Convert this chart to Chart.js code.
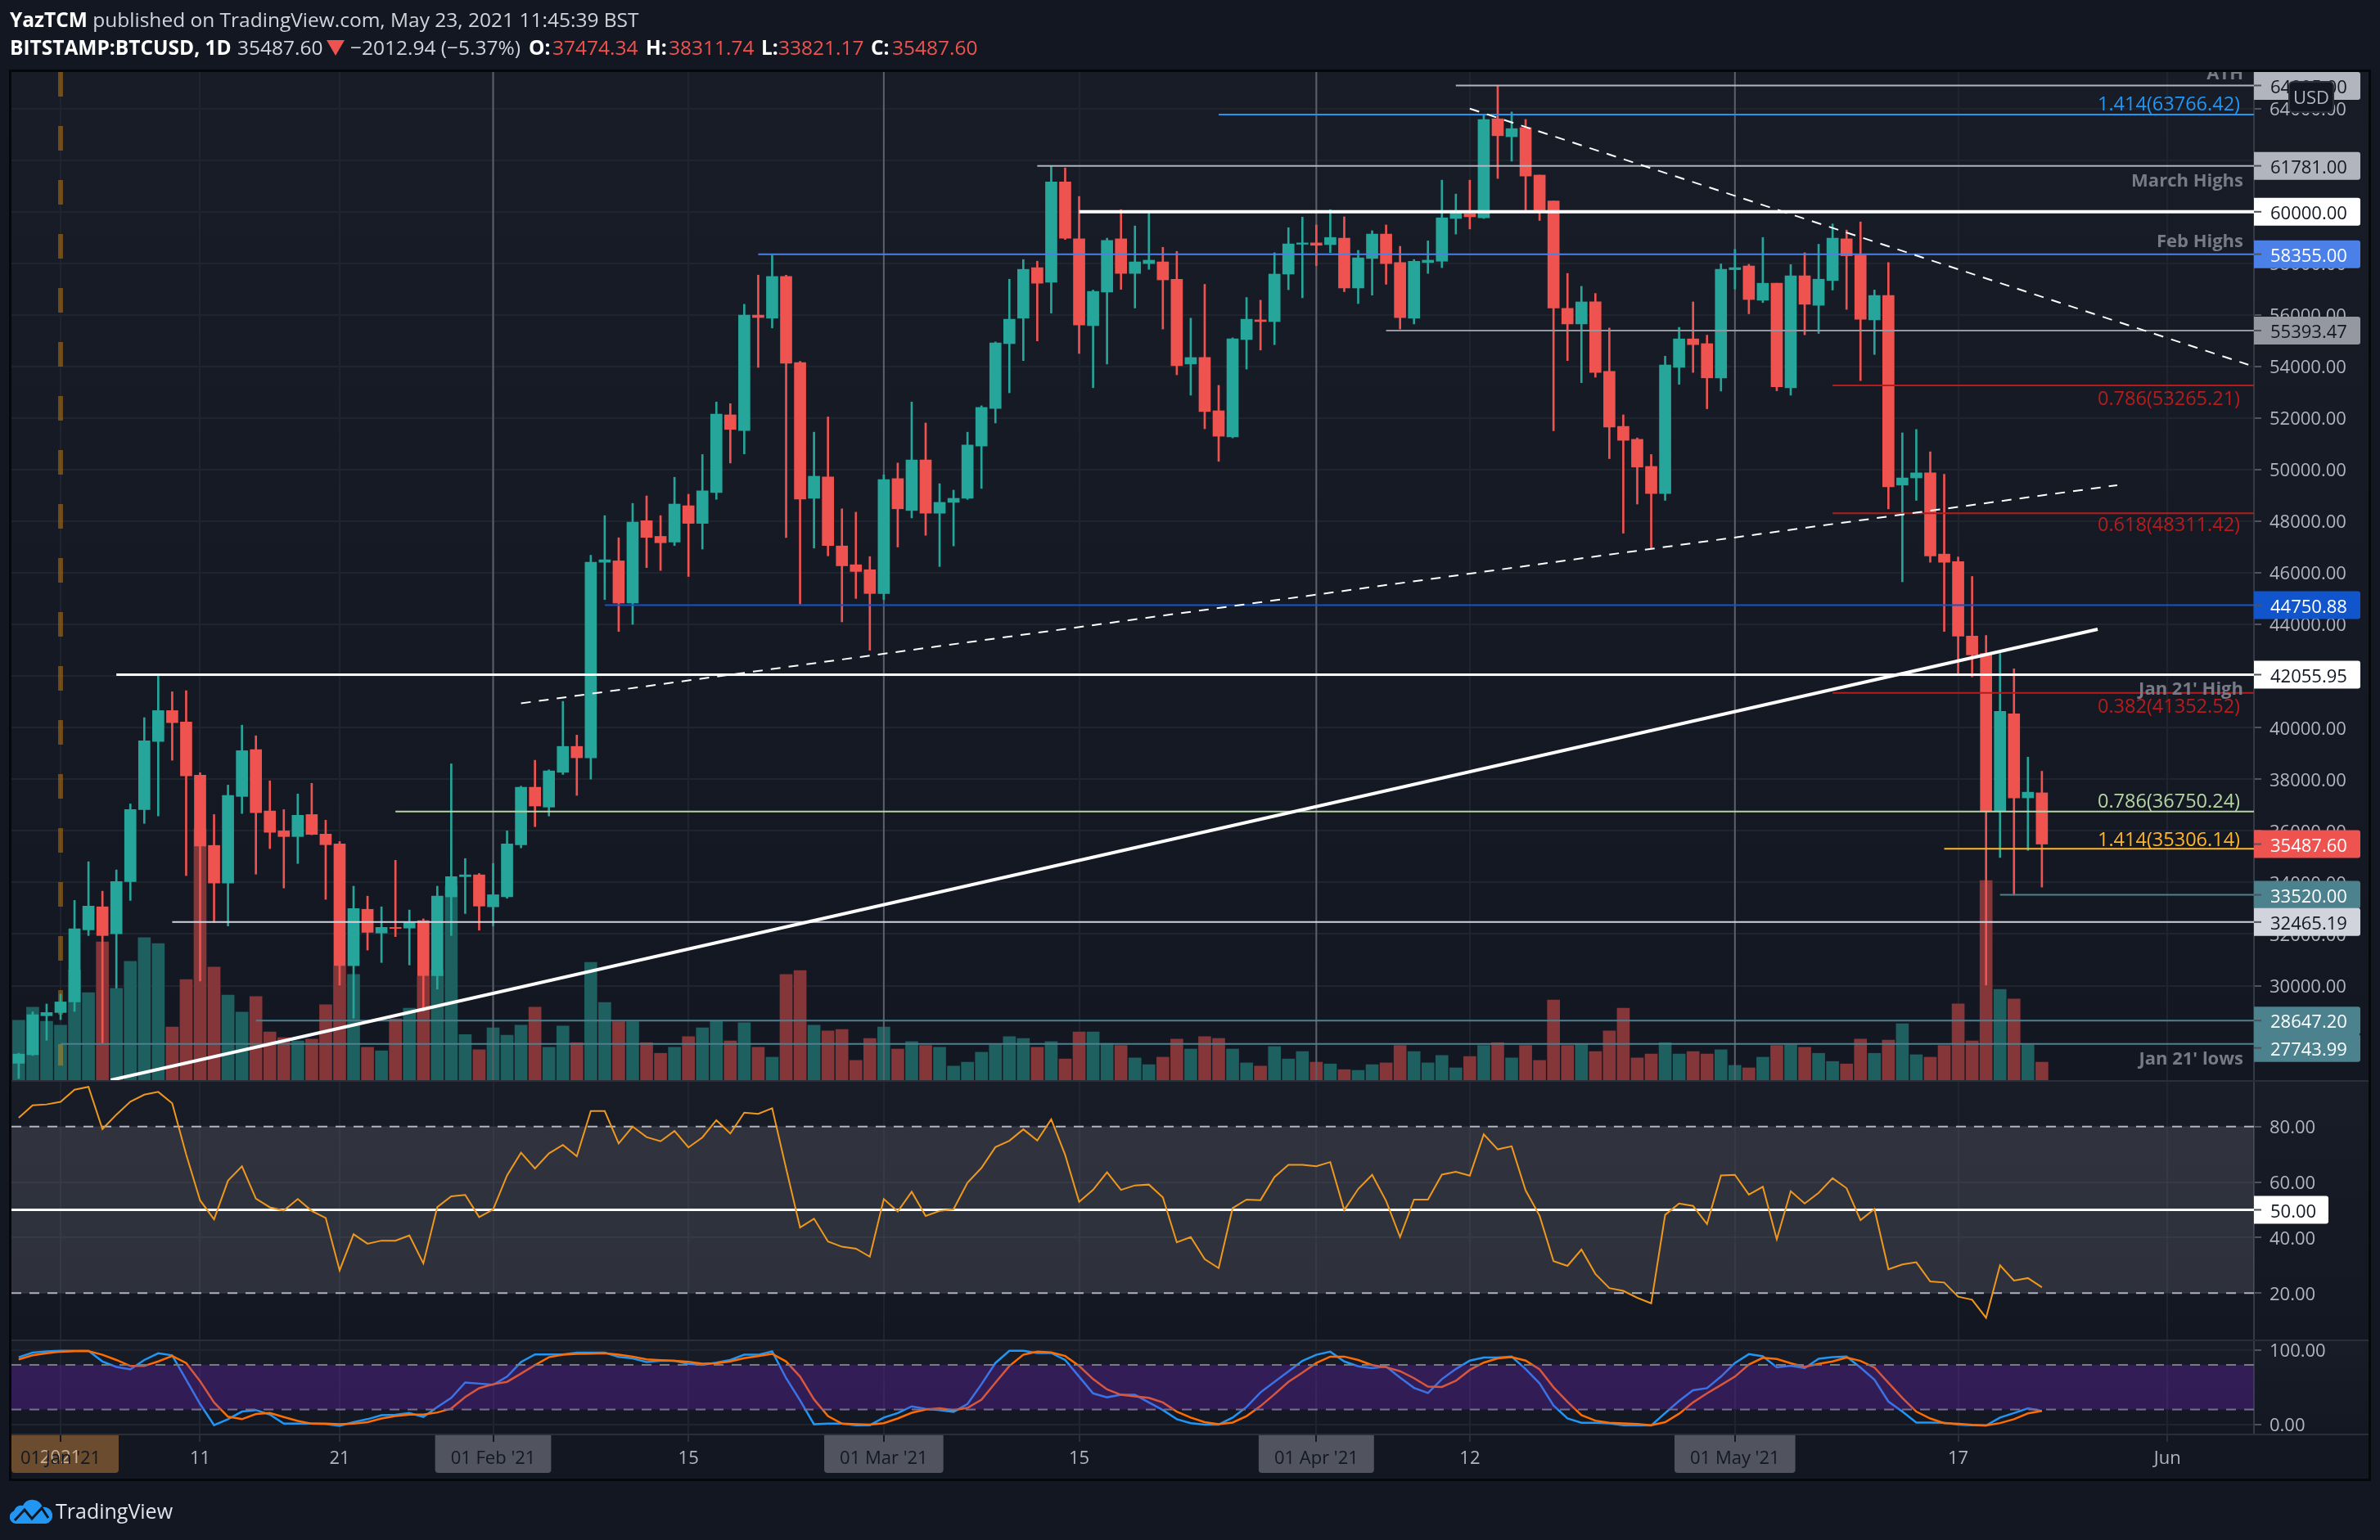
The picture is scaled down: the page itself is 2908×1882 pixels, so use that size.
<!DOCTYPE html>
<html>
<head>
<meta charset="utf-8">
<title>BTCUSD</title>
<script src="https://cdn.jsdelivr.net/npm/chart.js@4/dist/chart.umd.js"></script>
<style>
  html, body { margin: 0; padding: 0; background: #131722; width: 2908px; height: 1882px; overflow: hidden; }
  body { position: relative; font-family: "Open Sans", sans-serif; color: #d1d4dc; }
  canvas { position: absolute; left: 0; top: 0; }
  .h { position: absolute; white-space: nowrap; font-size: 24.5px; line-height: 30px; }
  .h1 { top: 9px; }
  .h2 { top: 43px; }
  .h b, b.h { color: #fff; font-weight: 700; }
  .red { color: #ef5350; }
  #tri { position: absolute; left: 399px; top: 49px; width: 0; height: 0; border-left: 11px solid transparent; border-right: 11px solid transparent; border-top: 19px solid #ef5350; }
  #footer { position: absolute; left: 12px; top: 1829px; height: 34px; display: flex; align-items: center; font-size: 25px; color: #e0e3eb; }
  #footer svg { margin-right: 4px; }
</style>
</head>
<body>
<canvas id="chart" width="2908" height="1882"></canvas>
<div class="h h1" style="left:12px"><b>YazTCM</b> published on TradingView.com, May 23, 2021 11:45:39 BST</div>
<b class="h h2" style="left:12px">BITSTAMP:BTCUSD, 1D</b>
<span class="h h2" style="left:290px">35487.60</span>
<div id="tri"></div>
<span class="h h2" style="left:428px">−2012.94 (−5.37%)</span>
<b class="h h2" style="left:646px">O:</b><span class="h h2 red" style="left:675px">37474.34</span>
<b class="h h2" style="left:789px">H:</b><span class="h h2 red" style="left:817px">38311.74</span>
<b class="h h2" style="left:930px">L:</b><span class="h h2 red" style="left:951px">33821.17</span>
<b class="h h2" style="left:1064px">C:</b><span class="h h2 red" style="left:1090px">35487.60</span>
<div id="footer">
  <svg width="52" height="32" viewBox="0 0 52 32"><path d="M8 32a8 8 0 0 1-3-15.500a9 9 0 0 1 11-6.500a13 13 0 0 1 24 2a10 10 0 0 1 4 20z" fill="#2196f3"/><path d="M6 28l12-13 9 11 12-13 8 12" fill="none" stroke="#131722" stroke-width="3"/></svg>
  TradingView
</div>
<script>
// days are counted from 1 Jan 2021, first candle is 29 Dec 2020
const firstDay = -3;

const opens = [
  26990,27321,28834,28958,29370,32163,33056,32011,34033,36825,
  39466,40663,40223,38160,35436,33978,37334,39150,36770,36000,
  35780,36633,35876,35491,30773,32960,32039,32259,32231,32520,
  30388,33442,34226,34295,33056,33442,35464,37692,36922,38270,
  39274,38834,46413,46468,44831,48025,47417,47197,48604,47920,
  49116,52127,51522,55993,55875,57492,54152,48892,49722,47045,
  46316,46124,45202,49656,48420,50378,48314,48735,48892,50917,
  52377,54888,55875,57834,57268,61160,58951,55585,56887,58951,
  57610,57991,58057,57386,54099,54349,52285,51272,55046,55809,
  55743,57584,58741,58793,58727,58977,57045,58189,59135,58031,
  55875,58031,58083,59740,59924,59766,63606,62909,63263,61423,
  60420,56256,55651,56506,53810,51680,51180,50129,49077,53968,
  55072,54888,53560,57755,57899,56571,57229,53179,57518,56374,
  57334,58951,58320,55809,56755,49406,49682,49879,46729,46440,
  43552,42878,36757,40539,37279,37474.34
];
const closes = [
  27348,28875,28958,29370,32204,33084,31942,34033,36825,39494,
  40663,40195,38132,35409,33978,37376,39109,36702,35945,35780,
  36605,35862,35464,30773,32988,32066,32259,32218,32451,30388,
  33469,34226,34295,33084,33524,35491,37692,36963,38325,39274,
  38834,46413,46509,44831,47972,47375,47169,48669,47920,49182,
  52154,51562,55993,55900,57492,54126,48866,49748,47059,46275,
  46055,45202,49616,48485,50378,48314,48735,48892,50957,52416,
  54915,55835,57768,57229,61160,58977,55611,56913,58885,57610,
  58057,58123,57360,54033,54349,52259,51299,55072,55835,55743,
  57584,58754,58793,58701,59004,57045,58215,59135,57991,55900,
  58083,58123,59766,59950,59805,63579,62948,63224,61384,60030,
  56269,55651,56506,53771,51654,51141,50102,49077,54060,55072,
  54849,53560,57768,57834,56598,57229,53219,57518,56414,57386,
  58977,58294,55835,56755,49340,49682,49879,46660,46413,43552,
  42823,36757,40636,37279,37499,35487.6
];
const highs = [
  27380,28985,29288,29673,33304,34804,33662,34487,37046,40388,
  42011,41392,41433,38256,36633,37775,40099,39686,37940,36825,
  37431,37843,36413,35588,33855,33469,33056,34859,32933,32589,
  33855,38600,34927,34350,34735,36000,37733,38737,38366,41021,
  39714,46688,48222,47362,48696,48985,48222,49708,49051,50590,
  52627,52561,56414,57544,58320,57544,54205,51456,52048,48485,
  48354,46633,49800,50260,52627,51812,49459,49208,51456,52480,
  54955,57386,58149,58083,61765,61699,60594,56966,58977,60082,
  59451,59950,58622,58465,55874,57189,53271,55112,56677,56571,
  58412,59385,59792,59490,60082,59805,58504,59267,59490,58662,
  58149,58872,61226,60687,61226,63737,64895,63869,63579,61423,
  60420,57610,57110,56834,55493,52127,51233,50590,54402,55519,
  56506,55217,57978,58544,57965,59004,57229,57952,58412,58741,
  59530,59293,59608,56966,58031,51430,51561,50695,49826,46619,
  45862,43579,42878,42286,38861,38311.74
];
const lows = [
  26400,27293,27885,28682,28999,31942,27744,29906,33304,36289,
  36578,38737,34267,30182,32451,32314,36674,34322,35312,33786,
  34735,35849,33345,30017,28738,31378,30897,31901,30800,29013,
  29866,31942,32795,32149,32314,33387,35340,36165,36578,38187,
  37376,38008,44968,43730,44005,46206,46096,47059,45862,46923,
  48853,50260,50615,53968,55493,47375,44790,46963,46660,44102,
  45010,43001,44968,47004,48130,47458,46248,47045,48850,49274,
  51812,52982,54231,54993,56072,58925,54507,53179,54099,56992,
  56269,57768,55454,53679,52890,51588,50326,51233,53902,54639,
  54849,56979,56664,57912,58412,56901,56440,56769,57189,55454,
  55651,57610,57834,59135,59332,59740,61291,61962,60055,59661,
  51509,54231,53376,53587,50431,47540,48669,46963,48813,53311,
  53771,52364,53047,57005,56046,56479,53061,52890,55230,55283,
  56966,56216,53455,54468,48485,45656,48813,46413,43730,42052,
  41970,30017,34968,33510,35244,33821.17
];
const volumes = [
  171,208,168,157,313,249,392,261,337,404,
  387,152,286,710,321,242,194,238,138,122,
  113,118,215,323,300,95,85,175,205,295,
  313,550,131,88,150,129,157,208,95,155,
  108,334,221,167,167,108,78,95,125,150,
  169,113,164,95,67,300,311,157,141,145,
  58,120,152,90,111,100,95,42,53,81,
  102,125,120,95,111,62,138,138,106,100,
  65,46,67,118,90,125,120,90,51,42,
  97,62,83,53,48,32,30,46,51,100,
  83,51,72,37,69,100,108,65,100,58,
  228,100,105,83,141,205,65,76,108,76,
  83,76,88,44,37,67,100,102,95,78,
  55,48,118,78,115,161,74,67,100,217,
  113,565,258,231,102,53
];
const rsiValues = [
  83.2,87.7,88.0,88.9,93.3,94.3,79.1,84.3,89.0,91.5,
  92.5,88.4,70.0,53.4,46.6,60.5,65.7,54.0,50.9,49.7,
  53.9,49.6,47.1,28.2,41.2,37.8,38.9,38.9,40.8,30.7,
  51.0,54.9,55.4,47.4,50.1,62.4,70.6,64.9,70.3,73.4,
  69.3,85.6,85.6,73.9,80.0,76.2,74.7,78.4,72.5,76.1,
  82.3,77.5,85.0,84.6,86.6,64.9,43.6,46.8,38.6,36.7,
  36.0,33.1,53.9,49.4,56.5,47.8,49.6,50.2,59.8,65.1,
  72.6,74.9,79.0,75.0,82.6,69.8,52.9,57.2,63.5,57.2,
  58.8,59.1,54.5,38.3,40.2,32.2,29.0,50.6,53.7,53.5,
  61.8,66.2,66.2,65.7,67.2,49.9,57.5,62.6,53.2,40.2,
  53.7,53.7,62.7,63.7,62.3,77.2,71.8,72.9,57.0,47.9,
  31.5,29.8,35.7,26.9,21.8,20.8,18.3,16.3,48.2,52.3,
  51.4,44.9,62.4,62.6,55.5,58.3,39.4,56.7,52.3,56.1,
  61.4,57.8,46.3,50.3,28.6,30.3,31.1,24.2,23.8,18.7,
  17.6,11.1,30.0,24.5,25.4,22.1
];
const stochK = [
  90.2,96.3,98.0,98.8,98.8,98.8,84.5,77.1,73.9,86.5,
  95.5,92.7,60.0,27.3,-1.2,6.9,17.1,19.2,13.1,0.8,
  0.8,0.8,0.4,-2.0,2.9,6.9,12.2,12.7,15.1,9.8,
  23.3,35.5,56.3,54.7,53.1,64.1,83.7,93.9,93.9,93.9,
  96.3,96.3,96.3,90.6,88.6,83.7,85.3,85.3,81.2,80.0,
  82.9,86.5,93.5,93.5,98.0,62.0,32.2,0,0.8,0.8,
  -1.2,-1.2,9,15.1,24.1,20.8,19.2,16.7,27.3,53.9,
  82.4,98.8,98.8,95.9,95.9,86.5,64.1,41.6,36.3,39.6,
  39.6,29.4,19.2,6.9,1.6,-0.4,-0.4,9,23.3,42.9,
  57.1,71,85.3,93.5,97.6,84.5,78,75.5,77.6,62.9,
  49,42,60.8,74.3,85.7,89.8,89.8,91,74.3,55.1,
  25.3,7.8,2,2,1.2,-1.2,-1.2,-1.6,15.1,31.4,
  45.7,48.6,64.1,82.4,94.3,91.4,76.7,78.8,75.5,88.2,
  90.2,91,76.3,60,30.6,17.1,2.4,2.4,2,-0.4,
  -1.2,-1.6,9,15.1,21.6,18
];
const stochD = [
  87.3,92.7,95.5,97.6,98.4,98.4,93.5,86.5,78.4,78.4,
  84.5,91.8,82.4,58,29.4,10.2,6.9,13.9,15.1,9.8,
  4.5,0.8,0.8,0,0.8,2.9,7.8,11,13.1,13.1,
  15.9,21.2,36.7,48.6,53.9,57.1,68.2,79.6,90.2,93.5,
  94.7,95.1,95.5,93.5,91,87.3,86.1,85.3,84.1,81.6,
  82,84.5,89,91.8,94.7,84.5,64.1,33.5,11,0.8,
  0,-0.4,1.6,7.8,15.5,20,21.6,19.2,22,33.1,
  55.9,78.4,93.5,97.6,96.7,91.8,78.4,60.8,46.9,39.6,
  37.6,35.5,29.4,17.1,9,2.9,0,2.4,11,24.5,
  40.4,57.1,69.4,82.4,91,91,86.5,79.6,76.7,71.4,
  62,50.6,50.2,58.4,73.1,82.9,88.6,90.2,85.7,73.9,
  49.8,30.2,12.2,4.9,2,1.2,0.4,-1.2,2.9,14.3,
  29.4,41.6,52.7,64.1,80.4,89.4,87.8,82,77.1,81.2,
  84.5,89.8,85.3,76.3,55.9,35.5,17.1,7.8,1.6,0.8,
  -0.8,-1.6,1.6,6.9,14.7,18
];

const tickDays = [0, 10, 20, 31, 45, 59, 73, 90, 101, 120, 136, 151];
const tickLabels = ["01 Jan '21", "11", "21", "01 Feb '21", "15", "01 Mar '21", "15", "01 Apr '21", "12", "01 May '21", "17", "Jun"];
const monthDays = [31, 59, 90, 120];
const priceTicks = [30000,32000,34000,36000,38000,40000,42000,44000,46000,48000,50000,52000,54000,56000,58000,60000,62000,64000];
const rsiTicks = [20, 40, 60, 80];
const stochTicks = [0, 100];

const levelPrices = [64895,63766.42,61781,60000,58355,55393.47,53265.21,48311.42,44750.88,42055.95,41352.52,36750.24,35306.14,33520,32465.19,28647.2,27743.99];
const levelStartDays = [100,83,70,73,50,95,127,127,39,4,127,24,135,139,8,14,0];
const levelColors = ['#b2b5be','#2196f3','#b2b5be','#ffffff','#4a80e8','#9598a1','#b71c1c','#b71c1c','#1155cc','#ffffff','#b71c1c','#b5d6a2','#ffb52b','#4c818e','#d1d4dc','#4c818e','#4c818e'];
const levelWidths = [2,2,2,4,2,2,2,2,2,3,2,2,2,2,2,2,2];

// price, background, text, nudge
const axisBoxes = [
  [64895, '#b2b5be', '#131722', 0],
  [61781, '#b2b5be', '#131722', 0],
  [60000, '#ffffff', '#131722', 0],
  [58355, '#4a80e8', '#ffffff', 0],
  [55393.47, '#9598a1', '#131722', 0],
  [44750.88, '#1155cc', '#ffffff', 0],
  [42055.95, '#ffffff', '#131722', 0],
  [35487.6, '#ef5350', '#ffffff', 0],
  [33520, '#4c818e', '#ffffff', 0],
  [32465.19, '#d1d4dc', '#131722', 0],
  [28647.2, '#4c818e', '#ffffff', 0],
  [27743.99, '#4c818e', '#ffffff', 5]
];
// text, price, colour, offset above the price
const fibLabels = [
  ['1.414(63766.42)', 63766.42, '#2196f3', 13.5],
  ['0.786(53265.21)', 53265.21, '#b71c1c', -15],
  ['0.618(48311.42)', 48311.42, '#b71c1c', -13],
  ['0.382(41352.52)', 41352.52, '#b71c1c', -16],
  ['0.786(36750.24)', 36750.24, '#b5d6a2', 13],
  ['1.414(35306.14)', 35306.14, '#ffb52b', 12]
];
const noteLabels = [
  ['ATH', 64895, 15.5],
  ['March Highs', 61781, -17],
  ['Feb Highs', 58355, 17],
  ["Jan 21' High", 41352.52, 6],
  ["Jan 21' lows", 27743.99, -17]
];

const trendSolid = [{ x: 3.6, y: 26338 }, { x: 146, y: 43816 }];
const trendDashUp = [{ x: 33, y: 40945 }, { x: 147.4, y: 49402 }];
const trendDashDown = [{ x: 101, y: 64000 }, { x: 156.8, y: 54071 }];

const xMin = -3.52, xMax = 157.2;
const priceMin = 26306, priceMax = 65418;
const rsiMin = 2.97, rsiMax = 96.44;
const stochMin = -13.64, stochMax = 112.87;
const volMin = -996, volMax = 2843;

const UP = '#26a69a', DOWN = '#ef5350';
const GRID = '#20242f';
const AXIS_TEXT = '#b2b5be';
const FONT = '"Open Sans", sans-serif';
const TEXT_DROP = 2; // canvas middle baseline sits a little high for this font

const days = opens.map((_, i) => firstDay + i);
const upDown = (u, d) => opens.map((o, i) => closes[i] >= o ? u : d);

function flatLine(level, start, color, width, dash, yAxisID, order, extra) {
    return Object.assign({
        type: 'line', data: [{ x: start, y: level }, { x: xMax, y: level }], yAxisID: yAxisID,
        borderColor: color, borderWidth: width, borderDash: dash || [], pointRadius: 0, order: order, fill: false
    }, extra || {});
}

function seriesLine(values, color, width, yAxisID, order) {
    return {
        type: 'line', data: values.map((v, i) => ({ x: days[i], y: v })), yAxisID: yAxisID,
        borderColor: color, borderWidth: width, pointRadius: 0, tension: 0, order: order
    };
}

function trendLine(points, width, dash) {
    return { type: 'line', data: points, yAxisID: 'y', borderColor: '#ffffff', borderWidth: width, borderDash: dash, pointRadius: 0, order: 4 };
}

const datasets = [
    { data: days.map((d, i) => ({ x: d, y: volumes[i] })), yAxisID: 'yVol', backgroundColor: upDown('#1e5f5f', '#843639'),
      barThickness: 15, grouped: false, order: 20 },
    { data: days.map((d, i) => ({ x: d, y: [lows[i], highs[i]] })), yAxisID: 'y', backgroundColor: upDown(UP, DOWN),
      barThickness: 2, grouped: false, order: 11 },
    { data: days.map((d, i) => ({ x: d, y: [opens[i], closes[i]] })), yAxisID: 'y', backgroundColor: upDown(UP, DOWN),
      barThickness: 14, grouped: false, order: 10 },
    // drawn objects on the price pane
    { type: 'line', data: [{ x: 0, y: priceMax }, { x: 0, y: 26900 }], yAxisID: 'y', borderColor: 'rgba(255,152,0,0.38)', borderWidth: 6,
      borderDash: [30, 36], pointRadius: 0, order: 14 },
    ...monthDays.map(d => ({ type: 'line', data: [{ x: d, y: priceMin }, { x: d, y: priceMax }], yAxisID: 'y', borderColor: '#5d606b',
      borderWidth: 2, pointRadius: 0, order: 15 })),
    ...levelPrices.map((p, i) => flatLine(p, levelStartDays[i], levelColors[i], levelWidths[i], null, 'y', 5)),
    trendLine(trendSolid, 4, []),
    trendLine(trendDashUp, 2, [12, 10]),
    trendLine(trendDashDown, 2, [12, 10]),
    // RSI pane
    flatLine(80, xMin, '#b2b5be', 2, [12, 10], 'yRsi', 8, { fill: '+1', backgroundColor: 'rgba(149,152,161,0.2)' }),
    flatLine(20, xMin, '#b2b5be', 2, [12, 10], 'yRsi', 8),
    flatLine(50, xMin, '#ffffff', 3, null, 'yRsi', 7),
    seriesLine(rsiValues, '#f0981c', 2, 'yRsi', 3),
    // stochastic pane, the band sits over the lines
    flatLine(80, xMin, '#787b86', 2, [12, 10], 'yStoch', 2, { fill: '+1', backgroundColor: 'rgba(119,36,201,0.3)' }),
    flatLine(20, xMin, '#787b86', 2, [12, 10], 'yStoch', 2),
    seriesLine(stochK, '#2196f3', 2.5, 'yStoch', 6),
    seriesLine(stochD, '#ff6d00', 2.5, 'yStoch', 5)
];

function fixedWidth(scale) { scale.width = 141; }

function paneScale(stackWeight, weight, min, max, ticks) {
    return {
        type: 'linear', position: 'right', stack: 'panes', stackWeight: stackWeight, weight: weight, min: min, max: max,
        afterBuildTicks: s => { s.ticks = ticks.map(v => ({ value: v })); },
        afterFit: fixedWidth,
        grid: { color: GRID, lineWidth: 2, tickLength: 9, tickColor: '#50535e', tickWidth: 2 },
        border: { color: '#363a45', width: 2 },
        ticks: { color: AXIS_TEXT, padding: 10, labelOffset: TEXT_DROP, font: { family: FONT, size: 22 }, callback: v => v.toFixed(2) }
    };
}

const paneBackground = {
    id: 'paneBackground',
    beforeDraw(chart) {
        const c = chart.ctx, left = 14, right = 2895;
        ['y', 'yRsi', 'yStoch'].forEach(id => {
            const s = chart.scales[id];
            const g = c.createLinearGradient(0, s.top, 0, s.bottom);
            g.addColorStop(0, '#181c27');
            g.addColorStop(1, '#131722');
            c.fillStyle = g;
            c.fillRect(left, s.top, right - left, s.bottom - s.top);
        });
        const x = chart.scales.x;
        c.fillStyle = '#131722';
        c.fillRect(left, x.top, right - left, x.bottom - x.top);
        // date boxes under the tick labels
        c.font = '22px ' + FONT;
        tickDays.forEach((d, i) => {
            const label = tickLabels[i];
            if (label.length < 5) return;
            const px = x.getPixelForValue(d), w = c.measureText(label).width + 38;
            const l = Math.max(left, px - w / 2);
            c.fillStyle = d === 0 ? '#6b4c2e' : '#51545e';
            c.beginPath();
            c.roundRect(l, x.top - 1, d === 0 ? 131 : w, 48, [0, 0, 4, 4]);
            c.fill();
        });
        c.fillStyle = '#c9b29b';
        c.textAlign = 'center';
        c.textBaseline = 'middle';
        c.fillText('2021', x.getPixelForValue(0), 1780 + TEXT_DROP);
    }
};

const overlays = {
    id: 'overlays',
    afterDraw(chart) {
        const c = chart.ctx, area = chart.chartArea, y = chart.scales.y;
        const right = area.right - 17;
        c.save();
        c.beginPath();
        c.rect(area.left, area.top, area.right - area.left, area.bottom - area.top);
        c.clip();
        c.textBaseline = 'middle';
        c.textAlign = 'right';
        c.font = '23.5px ' + FONT;
        fibLabels.forEach(([text, price, color, up]) => {
            c.fillStyle = color;
            c.fillText(text, right, y.getPixelForValue(price) - up + TEXT_DROP);
        });
        c.font = 'bold 22px ' + FONT;
        c.fillStyle = '#787b86';
        noteLabels.forEach(([text, price, up]) => {
            c.fillText(text, right + 4, y.getPixelForValue(price) - up + TEXT_DROP);
        });
        c.restore();

        // pane separators and the outer frame
        c.strokeStyle = '#2a2e39';
        c.lineWidth = 2;
        [chart.scales.yRsi.top, chart.scales.yStoch.top, chart.scales.x.top].forEach(py => {
            c.beginPath(); c.moveTo(14, py); c.lineTo(2895, py); c.stroke();
        });
        c.strokeStyle = '#05070b';
        c.lineWidth = 3;
        c.strokeRect(12.5, 86.5, 2883, 1722);

        // price labels on the axis
        c.textAlign = 'left';
        c.font = '22px ' + FONT;
        const box = (py, w, bg, fg, text) => {
            c.fillStyle = bg;
            c.beginPath();
            c.roundRect(area.right, Math.max(88, py - 17), w, 34, [0, 3, 3, 0]);
            c.fill();
            c.fillStyle = '#50535e';
            c.fillRect(area.right, py - 1, 9, 2);
            c.fillStyle = fg;
            c.fillText(text, area.right + 20, py + 1 + TEXT_DROP);
        };
        axisBoxes.forEach(([price, bg, fg, nudge]) => box(y.getPixelForValue(price) + nudge, 130, bg, fg, price.toFixed(2)));
        box(chart.scales.yRsi.getPixelForValue(50), 91, '#ffffff', '#131722', '50.00');

        c.fillStyle = '#131722';
        c.strokeStyle = '#2a2e39';
        c.lineWidth = 2;
        c.beginPath();
        c.roundRect(2797, 100, 54, 37, 5);
        c.fill();
        c.stroke();
        c.fillStyle = AXIS_TEXT;
        c.textAlign = 'center';
        c.fillText('USD', 2824, 119 + TEXT_DROP);
    }
};

new Chart(document.getElementById('chart').getContext('2d'), {
    type: 'bar',
    data: { datasets: datasets },
    plugins: [paneBackground, overlays],
    options: {
        responsive: false,
        devicePixelRatio: 1,
        animation: false,
        events: [],
        layout: { padding: { left: 14, right: 13, top: 88, bottom: 74 } },
        plugins: { legend: { display: false }, tooltip: { enabled: false } },
        scales: {
            x: {
                type: 'linear', position: 'bottom', min: xMin, max: xMax, offset: false,
                afterBuildTicks: s => { s.ticks = tickDays.map(v => ({ value: v })); },
                afterFit: s => { s.height = 55; },
                grid: { offset: false, color: GRID, lineWidth: 2, tickLength: 9, tickWidth: 2,
                        tickColor: ctx => ctx.tick && monthDays.concat(0).includes(ctx.tick.value) ? '#131722' : '#2a2e39' },
                border: { color: '#2a2e39', width: 2 },
                ticks: {
                    autoSkip: false, maxRotation: 0, padding: 8, font: { family: FONT, size: 22 },
                    color: ctx => ctx.tick && monthDays.concat(0).includes(ctx.tick.value) ? '#131722' : AXIS_TEXT,
                    callback: v => tickLabels[tickDays.indexOf(v)]
                }
            },
            y: paneScale(1233, 0, priceMin, priceMax, priceTicks),
            yRsi: paneScale(317, 1, rsiMin, rsiMax, rsiTicks),
            yStoch: paneScale(115, 2, stochMin, stochMax, stochTicks),
            yVol: { type: 'linear', position: 'left', display: false, min: volMin, max: volMax }
        }
    }
});
</script>
</body>
</html>
